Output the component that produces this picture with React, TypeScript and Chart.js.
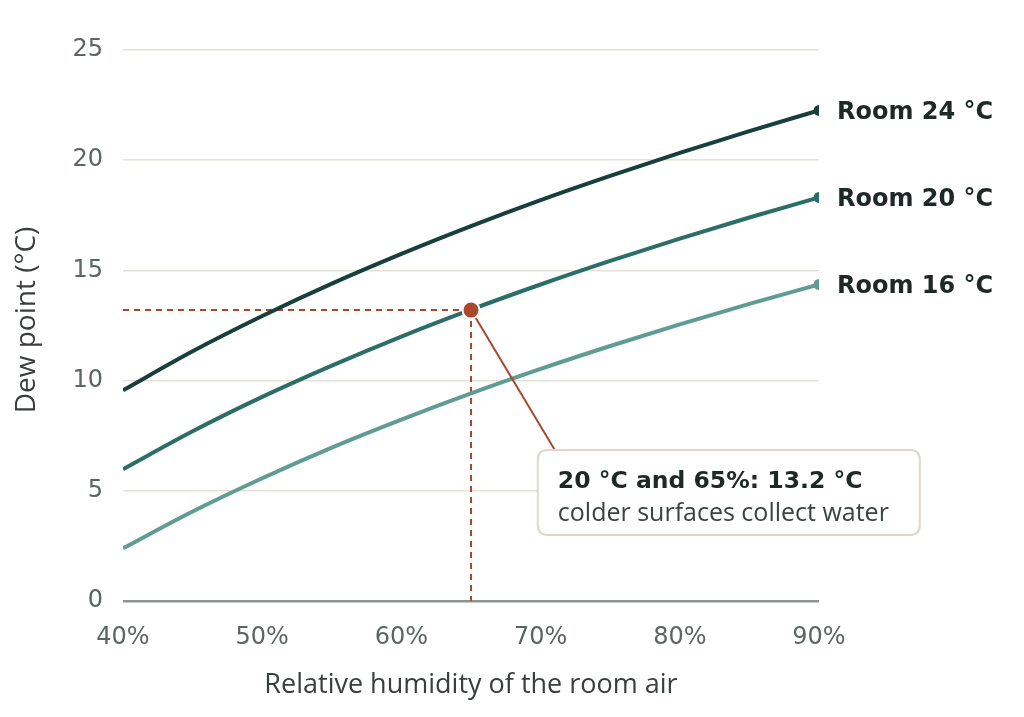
import React, { useEffect, useRef } from "react";
import { Chart, registerables } from "chart.js";

Chart.register(...registerables);

const humidity = [40, 45, 50, 55, 60, 65, 70, 75, 80, 85, 90];
const room24 = [9.56, 11.33, 12.93, 14.4, 15.75, 17.01, 18.19, 19.29, 20.33, 21.32, 22.26];
const room20 = [5.98, 7.7, 9.26, 10.68, 12.0, 13.22, 14.36, 15.43, 16.44, 17.4, 18.31];
const room16 = [2.39, 4.06, 5.57, 6.96, 8.23, 9.42, 10.53, 11.57, 12.55, 13.48, 14.36];
const seriesLabels = ["Room 24 °C", "Room 20 °C", "Room 16 °C"];
const seriesColors = ["#173f3b", "#2b6d67", "#5e9c94"];
const yTicks = [0, 5, 10, 15, 20, 25];
const xTicks = [40, 50, 60, 70, 80, 90];

const markX = 65;
const markY = 13.2;
const noteTitle = "20 °C and 65%: 13.2 °C";
const noteSub = "colder surfaces collect water";
const noteAnchorX = 69.8; // box left edge in % RH
const noteAnchorY = 6.85; // box top edge in °C

const xTitle = "Relative humidity of the room air";
const yTitle = "Dew point (°C)";

const ACCENT = "#a9482b";
const TICKFONT = "'DejaVu Sans', sans-serif";
const BOLD = "'DejaVu Sans', sans-serif";
const TEXT = "'Open Sans', 'Noto Sans', sans-serif";

function roundRect(ctx: CanvasRenderingContext2D, x: number, y: number, w: number, h: number, r: number) {
  ctx.beginPath();
  ctx.moveTo(x + r, y);
  ctx.lineTo(x + w - r, y);
  ctx.quadraticCurveTo(x + w, y, x + w, y + r);
  ctx.lineTo(x + w, y + h - r);
  ctx.quadraticCurveTo(x + w, y + h, x + w - r, y + h);
  ctx.lineTo(x + r, y + h);
  ctx.quadraticCurveTo(x, y + h, x, y + h - r);
  ctx.lineTo(x, y + r);
  ctx.quadraticCurveTo(x, y, x + r, y);
  ctx.closePath();
}

const overlay = {
  id: "overlay",
  afterDatasetsDraw(chart: any) {
    const ctx = chart.ctx as CanvasRenderingContext2D;
    const xs = chart.scales.x;
    const ys = chart.scales.y;
    ctx.save();
    // series end labels
    ctx.font = `bold 24px ${BOLD}`;
    ctx.fillStyle = "#1e2826";
    ctx.textAlign = "left";
    ctx.textBaseline = "middle";
    const ends = [room24, room20, room16];
    ends.forEach((arr, i) => {
      const px = xs.getPixelForValue(humidity[humidity.length - 1]);
      const py = ys.getPixelForValue(arr[arr.length - 1]);
      ctx.fillText(seriesLabels[i], px + 18, py + 2);
    });

    // annotation
    const mx = xs.getPixelForValue(markX);
    const my = ys.getPixelForValue(markY);
    const bx = xs.getPixelForValue(noteAnchorX);
    const by = ys.getPixelForValue(noteAnchorY);
    ctx.strokeStyle = ACCENT;
    ctx.lineWidth = 2;
    ctx.beginPath();
    ctx.moveTo(mx, my);
    ctx.lineTo(bx + 17, by);
    ctx.stroke();

    const bw = 382;
    const bh = 85;
    roundRect(ctx, bx, by, bw, bh, 10);
    ctx.fillStyle = "#ffffff";
    ctx.fill();
    ctx.strokeStyle = "#ddd8cb";
    ctx.lineWidth = 2;
    ctx.stroke();
    ctx.fillStyle = "#1e2826";
    ctx.textBaseline = "alphabetic";
    ctx.font = `bold 23.5px ${BOLD}`;
    ctx.fillText(noteTitle, bx + 20, by + 38);
    ctx.fillStyle = "#3a4442";
    ctx.font = `25px ${TEXT}`;
    ctx.fillText(noteSub, bx + 20, by + 71);

    // marker
    ctx.beginPath();
    ctx.arc(mx, my, 9.5, 0, Math.PI * 2);
    ctx.fillStyle = "#ffffff";
    ctx.fill();
    ctx.beginPath();
    ctx.arc(mx, my, 7.5, 0, Math.PI * 2);
    ctx.fillStyle = ACCENT;
    ctx.fill();

    // axis titles
    ctx.fillStyle = "#3a3f3e";
    ctx.textAlign = "center";
    ctx.textBaseline = "middle";
    ctx.font = `27px ${TEXT}`;
    ctx.fillText(xTitle, (xs.left + xs.right) / 2, 685);
    ctx.save();
    ctx.translate(27, 320);
    ctx.rotate(-Math.PI / 2);
    ctx.font = `28px ${TEXT}`;
    ctx.fillText(yTitle, 0, 0);
    ctx.restore();
    ctx.restore();
  },
};

export default function App() {
  const ref = useRef<HTMLCanvasElement>(null);
  useEffect(() => {
    if (!ref.current) return;
    const mk = (arr: number[]) => humidity.map((h, i) => ({ x: h, y: arr[i] }));
    const lineDs = [room24, room20, room16].map((arr, i) => ({
      label: seriesLabels[i],
      data: mk(arr),
      borderColor: seriesColors[i],
      backgroundColor: seriesColors[i],
      borderWidth: 4,
      cubicInterpolationMode: "monotone" as const,
      pointRadius: arr.map((_, j) => (j === arr.length - 1 ? 5.5 : 0)),
      pointBorderWidth: 0,
      order: 1,
    }));
    const dashH = {
      label: "guideH",
      data: [
        { x: humidity[0], y: markY },
        { x: markX, y: markY },
      ],
      borderColor: ACCENT,
      borderWidth: 2,
      borderDash: [6, 5],
      pointRadius: 0,
      order: 2,
    };
    const dashV = {
      label: "guideV",
      data: [
        { x: markX, y: markY },
        { x: markX, y: yTicks[0] },
      ],
      borderColor: ACCENT,
      borderWidth: 2,
      borderDash: [6, 5],
      pointRadius: 0,
      order: 2,
    };
    const chart = new Chart(ref.current, {
      type: "line",
      data: { datasets: [...lineDs, dashH, dashV] as any },
      options: {
        animation: false,
        responsive: false,
        devicePixelRatio: 1,
        layout: { padding: { left: 0, right: 205, top: 50, bottom: 0 } },
        plugins: { legend: { display: false }, tooltip: { enabled: false } },
        scales: {
          x: {
            type: "linear",
            min: xTicks[0],
            max: xTicks[xTicks.length - 1],
            afterBuildTicks: (s: any) => {
              s.ticks = xTicks.map((v) => ({ value: v }));
            },
            afterFit: (s: any) => {
              s.height = 116;
            },
            grid: { display: false, drawTicks: false },
            border: { display: false },
            ticks: {
              padding: 22,
              color: "#5d6563",
              font: { family: TICKFONT, size: 24 },
              callback: (v: any) => `${v}%`,
              maxRotation: 0,
            },
          },
          y: {
            type: "linear",
            min: yTicks[0],
            max: yTicks[yTicks.length - 1],
            afterBuildTicks: (s: any) => {
              s.ticks = yTicks.map((v) => ({ value: v }));
            },
            afterFit: (s: any) => {
              s.width = 123;
            },
            grid: {
              drawTicks: false,
              color: (c: any) => (c.tick && c.tick.value === 0 ? "#8b9592" : "#e5e2d8"),
              lineWidth: (c: any) => (c.tick && c.tick.value === 0 ? 2.5 : 1.5),
            },
            border: { display: false },
            ticks: {
              padding: 20,
              color: "#5d6563",
              font: { family: TICKFONT, size: 24 },
            },
          },
        },
      },
      plugins: [overlay],
    });
    return () => chart.destroy();
  }, []);
  return (
    <div style={{ position: "fixed", left: 0, top: 0, width: 1024, height: 717, background: "#fff" }}>
      <canvas ref={ref} width={1024} height={717} />
    </div>
  );
}
